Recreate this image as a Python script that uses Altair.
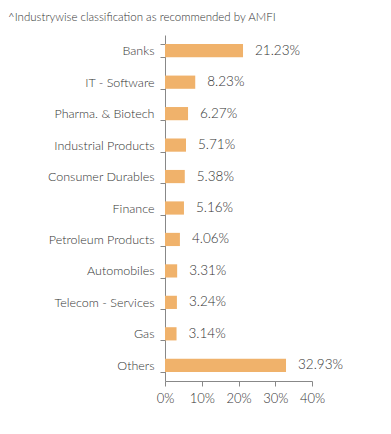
import altair as alt
import pandas as pd

categories = ["Banks", "IT - Software", "Pharma. & Biotech", "Industrial Products",
              "Consumer Durables", "Finance", "Petroleum Products", "Automobiles",
              "Telecom - Services", "Gas", "Others"]
values = [21.23, 8.23, 6.27, 5.71, 5.38, 5.16, 4.06, 3.31, 3.24, 3.14, 32.93]
x_ticks = [0, 0.1, 0.2, 0.3, 0.4]

df = pd.DataFrame({"cat": categories, "val": [v / 100 for v in values],
                   "label": [f"{v:.2f}%" for v in values]})

FONT = "Lato"
TXT = "#333333"
W = 300

y = alt.Y("cat:N", sort=categories, title=None,
          scale=alt.Scale(paddingInner=0.58, paddingOuter=0.29),
          axis=alt.Axis(tickBand="extent", domainColor="#888888", tickColor="#888888",
                        tickSize=5, labelFont=FONT, labelFontSize=12.5, labelColor=TXT,
                        labelFontWeight=W, labelPadding=6))
x = alt.X("val:Q", title=None,
          scale=alt.Scale(domain=[0, 0.4]),
          axis=alt.Axis(values=x_ticks, format=".0%", grid=False,
                        domainColor="#888888", tickColor="#888888", tickSize=5,
                        labelFont=FONT, labelFontSize=13, labelColor=TXT,
                        labelFontWeight=W, labelPadding=6, labelOverlap=False,
                        labelFlush=False, labelBound=False))

base = alt.Chart(df).encode(x=x, y=y)
bars = base.mark_bar(color="#F0B26B")
text = base.mark_text(align="left", baseline="middle", dx=12, font=FONT,
                      fontSize=13.5, fontWeight=W, color=TXT).encode(text="label:N")

chart = (bars + text).properties(
    width=147, height=346,
    autosize=alt.AutoSizeParams(type="none"),
    padding={"left": 157, "top": 27, "right": 62, "bottom": 37},
    title=alt.TitleParams("^Industrywise classification as recommended by AMFI",
                          anchor="start", frame="group", dx=-157, offset=6,
                          font=FONT, fontSize=11.5, fontWeight=W, color=TXT),
).configure_view(stroke=None).configure_axis(labelOverlap=False)

chart.save("out.html", embed_options={"renderer": "svg", "actions": False})
